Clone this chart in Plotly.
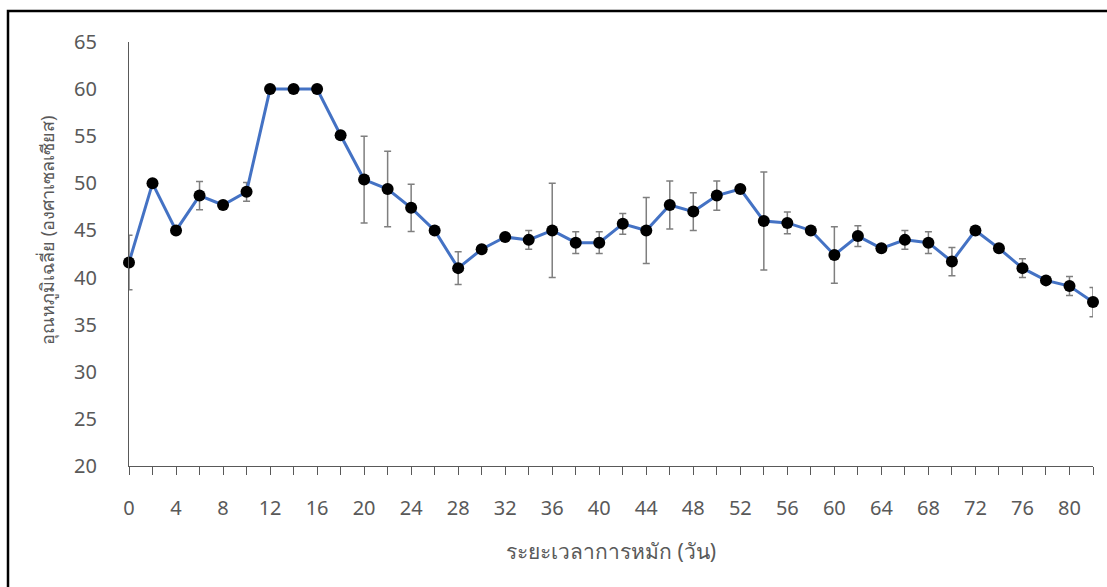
import plotly.graph_objects as go

days = list(range(0, 84, 2))
temps = [41.6, 50.0, 45.0, 48.7, 47.7, 49.1, 60.0, 60.0, 60.0, 55.1,
         50.4, 49.4, 47.4, 45.0, 41.0, 43.0, 44.3, 44.0, 45.0, 43.7,
         43.7, 45.7, 45.0, 47.7, 47.0, 48.7, 49.4, 46.0, 45.8, 45.0,
         42.4, 44.4, 43.1, 44.0, 43.7, 41.7, 45.0, 43.1, 41.0, 39.7,
         39.1, 37.4]
sd = [2.9, 0, 0, 1.5, 0, 1.0, 0, 0, 0, 0,
      4.6, 4.0, 2.5, 0, 1.75, 0, 0, 1.0, 5.0, 1.15,
      1.15, 1.1, 3.5, 2.55, 2.0, 1.55, 0, 5.2, 1.15, 0,
      3.0, 1.1, 0, 1.0, 1.15, 1.5, 0, 0, 1.0, 0,
      1.0, 1.55]

y_ticks = [20, 25, 30, 35, 40, 45, 50, 55, 60, 65]
x_title = "ระยะเวลาการหมัก (วัน)"
y_title = "อุณหภูมิเฉลี่ย (องศาเซลเซียส)"

W, H = 1107, 587
L, R, T, B = 129, 1093, 42, 466
pw, ph = R - L, B - T

def px(x):
    return (x - L) / pw

def py(y):
    return (B - y) / ph

font_fam = "Noto Sans, Tahoma, sans-serif"
gray = "#595959"

fig = go.Figure()
fig.add_trace(go.Scatter(
    x=days, y=temps, mode="lines+markers",
    line=dict(color="#4472C4", width=3),
    marker=dict(color="black", size=12),
    error_y=dict(type="data", array=sd, visible=True, color="#7F7F7F",
                 thickness=1.5, width=3.5),
    cliponaxis=False, showlegend=False,
))

fig.update_layout(
    width=W, height=H,
    margin=dict(l=L, r=W - R, t=T, b=H - B, autoexpand=False),
    paper_bgcolor="white", plot_bgcolor="white",
    font=dict(family=font_fam, color=gray, size=20),
    xaxis=dict(range=[0, 82], tickmode="array", tickvals=list(range(0, 81, 4)),
               ticks="outside", ticklen=8, tickcolor="#595959", tickwidth=1.3,
               showline=True, linecolor="#595959", linewidth=1.3,
               showgrid=False, zeroline=False,
               ticklabelstandoff=16,
               minor=dict(tickvals=list(range(2, 83, 4)), ticks="outside",
                          ticklen=8, tickcolor="#595959", tickwidth=1.3,
                          showgrid=False),
               tickfont=dict(size=20, color=gray)),
    yaxis=dict(range=[20, 65], tickvals=y_ticks, ticks="",
               showline=True, linecolor="#595959", linewidth=1.3,
               showgrid=False, zeroline=False, ticklabelstandoff=27,
               tickfont=dict(size=20, color=gray)),
    shapes=[dict(type="rect", xref="paper", yref="paper",
                 x0=px(8), x1=px(1125), y0=py(610), y1=py(11),
                 line=dict(color="black", width=2.5), layer="above")],
    annotations=[
        dict(text=x_title, xref="paper", yref="paper", x=px(611), y=py(551),
             showarrow=False, xanchor="center", yanchor="middle",
             font=dict(size=21, color=gray)),
        dict(text=y_title, xref="paper", yref="paper", x=px(47), y=py(231),
             showarrow=False, xanchor="center", yanchor="middle", textangle=-90,
             font=dict(size=18, color=gray)),
    ],
)

fig.write_html("out.html", config={"displayModeBar": False},
               post_script="document.body.style.margin='0';document.body.style.padding='0';document.body.style.overflow='hidden';")
